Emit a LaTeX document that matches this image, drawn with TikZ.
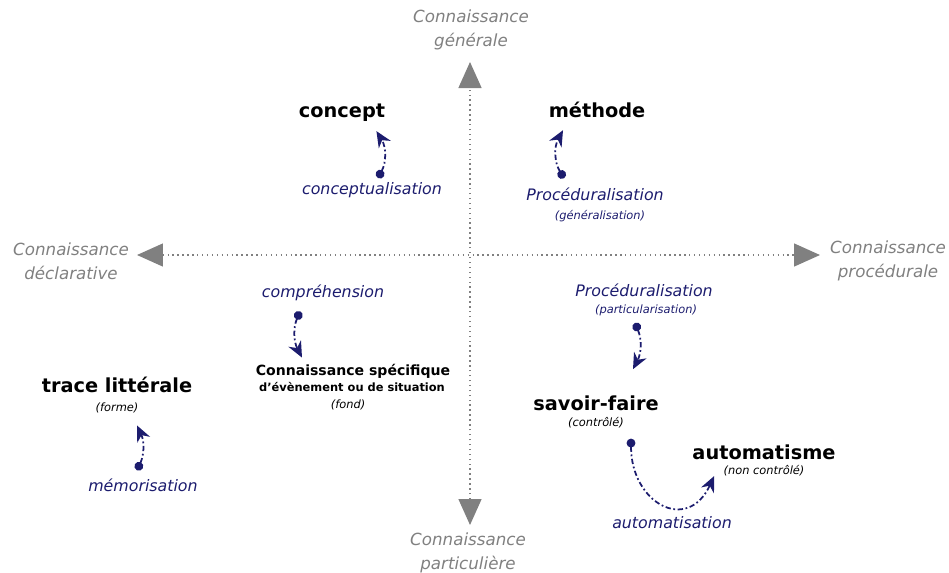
\documentclass[tikz,border=0pt]{standalone}
\usepackage{fontspec}
\setmainfont{DejaVu Sans}
\usetikzlibrary{arrows.meta}
\definecolor{navy}{RGB}{28,28,110}
\definecolor{axisgray}{RGB}{128,128,128}

\begin{document}
\begin{tikzpicture}[x=0.02cm,y=-0.02cm]
\tikzstyle{every node}+=[inner sep=0pt]
\tikzstyle{axe}=[axisgray, dotted, line width=0.8pt, {Triangle[length=0.52cm,width=0.46cm]}-{Triangle[length=0.52cm,width=0.46cm]}]
\tikzstyle{pole}=[axisgray, font=\fontsize{9.5}{13.5}\selectfont\itshape, align=center]
\tikzstyle{savoir}=[font=\fontsize{11}{13}\selectfont\bfseries]
\tikzstyle{process}=[navy, font=\fontsize{9}{11}\selectfont\itshape]
\tikzstyle{note}=[font=\fontsize{6.5}{8}\selectfont\itshape]
\tikzstyle{flow}=[navy, line width=1pt, dash pattern=on 3pt off 1.5pt on 1pt off 1.5pt, {Circle[length=5pt]}-{Stealth[length=9pt,width=8pt]}]
\useasboundingbox (0,0) rectangle (949,572);
% axes
\coordinate (haut) at (470,62);
\coordinate (bas) at (470,525);
\coordinate (gauche) at (137,255);
\coordinate (droite) at (820,255);
\draw[axe] (bas) -- (haut);
\draw[axe] (gauche) -- (droite);
\node[pole] (generale) at (471,30) {Connaissance\\générale};
\node[pole] (particuliere) at (468,553) {Connaissance\\particulière};
\node[pole] (declarative) at (71,261) {Connaissance\\déclarative};
\node[pole] (procedurale) at (888,261) {Connaissance\\procédurale};
% savoirs
\node[savoir] (concept) at (342,113) {concept};
\node[savoir] (methode) at (597,110) {méthode};
\node[savoir] (trace) at (117,385) {trace littérale};
\node[note] (forme) at (117,408) {(forme)};
\node[font=\fontsize{8}{9}\selectfont\bfseries] (specifique) at (353,371) {Connaissance spécifique};
\node[font=\fontsize{6.5}{8}\selectfont\bfseries] (evenement) at (352,387) {d'évènement ou de situation};
\node[note] (fond) at (348,405) {(fond)};
\node[savoir] (savoirfaire) at (596,403) {savoir-faire};
\node[note] (controle) at (596,423) {(contrôlé)};
\node[savoir] (automatisme) at (764,452) {automatisme};
\node[note] (noncontrole) at (764,471) {(non contrôlé)};
% processus
\node[process] (conceptualisation) at (372,190) {conceptualisation};
\node[process] (procgen) at (595,194) {Procéduralisation};
\node[note, navy] (generalisation) at (600,216) {(généralisation)};
\node[process] (comprehension) at (323,293) {compréhension};
\node[process] (procpart) at (644,290) {Procéduralisation};
\node[note, navy] (particularisation) at (646,310) {(particularisation)};
\node[process] (memorisation) at (143,485) {mémorisation};
\node[process] (automatisation) at (672,523) {automatisation};
% fleches
\draw[flow] ([shift={(6,-4)}]conceptualisation.north) to[bend right=30] ([shift={(-9,9)}]concept.south east);
\draw[flow] ([shift={(38,-9)}]procgen.north west) to[bend left=30] ([shift={(-34,12)}]methode.south);
\draw[flow] ([shift={(-23,10)}]comprehension.south) to[bend right=25] ([shift={(-51,-6)}]specifique.north);
\draw[flow] ([shift={(-11,7)}]particularisation.south) to[bend left=25] ([shift={(37,-26)}]savoirfaire.north);
\draw[flow] ([shift={(-6,-8)}]memorisation.north) to[bend right=25] ([shift={(20,12)}]forme.south);
\draw[flow] ([shift={(35,10)}]controle.south) to[out=270,in=245,looseness=1.8] ([shift={(-9,5)}]noncontrole.west);
\end{tikzpicture}
\end{document}
